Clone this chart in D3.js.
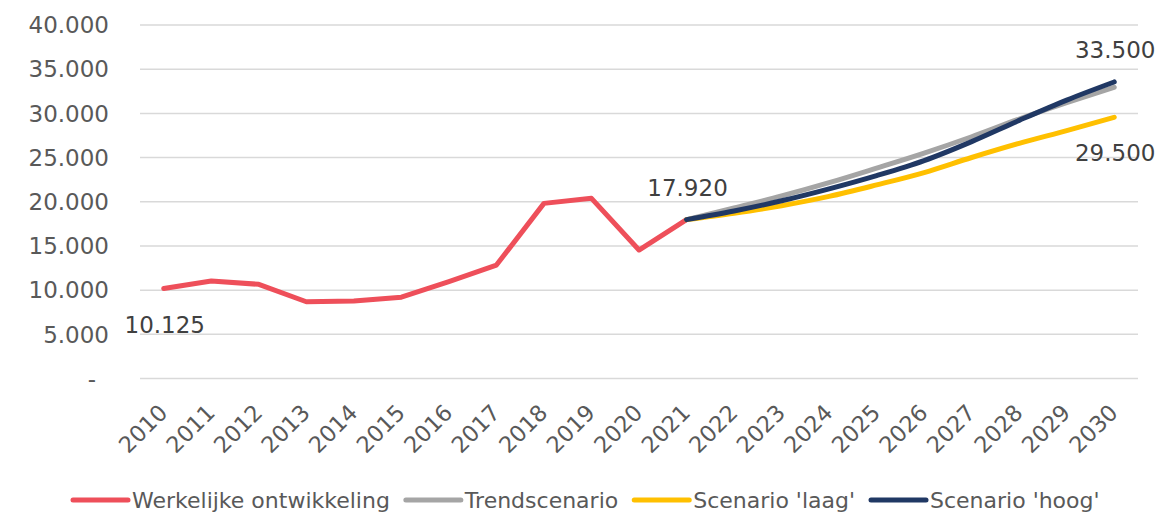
<!DOCTYPE html>
<html lang="nl">

<head>
    <meta charset="UTF-8">
    <script src="https://d3js.org/d3.v7.min.js"></script>
    <title>Ontwikkeling en scenario's</title>
    <style>
        body { margin: 0; background: #fff; }
        text { font-family: "DejaVu Sans", sans-serif; }
    </style>
</head>

<body>
    <div id="chart"></div>
    <script>

        // categories
        const years = ["2010", "2011", "2012", "2013", "2014", "2015", "2016", "2017", "2018", "2019",
            "2020", "2021", "2022", "2023", "2024", "2025", "2026", "2027", "2028", "2029", "2030"];
        const actualYears = years.slice(0, 12);   // 2010 - 2021
        const scenarioYears = years.slice(11);    // 2021 - 2030

        // series values
        const werkelijk = [10125, 10970, 10600, 8630, 8700, 9150, 10900, 12780, 19760, 20330, 14480, 17920];
        const trend = [17920, 19250, 20600, 22100, 23750, 25450, 27300, 29300, 31150, 32900];
        const laag = [17920, 18650, 19500, 20550, 21850, 23250, 24950, 26550, 28000, 29500];
        const hoog = [17920, 18900, 20050, 21400, 22900, 24600, 26750, 29150, 31450, 33500];

        const seriesNames = ["Werkelijke ontwikkeling", "Trendscenario", "Scenario 'laag'", "Scenario 'hoog'"];
        const seriesColors = ["#ee4f5a", "#a5a5a5", "#ffc000", "#203864"];

        // y ticks
        const yTicks = [0, 5000, 10000, 15000, 20000, 25000, 30000, 35000, 40000];

        const W = 1163, H = 512;
        const nl = d3.formatLocale({ decimal: ",", thousands: ".", grouping: [3], currency: ["€", ""] });
        const fmt = nl.format(",");

        const svg = d3.select("#chart")
            .append("svg")
            .attr("width", W)
            .attr("height", H);

        const x = d3.scalePoint()
            .domain(years)
            .range([140, 1138])
            .padding(0.5);

        const y = d3.scaleLinear()
            .domain([0, 40000])
            .range([378, 24.5]);

        // gridlines + y labels
        const yAxis = svg.append("g")
            .attr("transform", "translate(140,0)")
            .call(d3.axisLeft(y)
                .tickValues(yTicks)
                .tickSize(-998)
                .tickPadding(31)
                .tickFormat(d => d === 0 ? "-" : fmt(d)));
        yAxis.select(".domain").remove();
        yAxis.selectAll(".tick line").attr("stroke", "#d9d9d9").attr("stroke-width", 1.5);
        yAxis.selectAll(".tick text")
            .attr("fill", "#595959")
            .style("font-size", "23px")
            .attr("dy", "0.36em");
        yAxis.selectAll(".tick text").filter(d => d === 0).attr("dx", -13);

        // x labels
        const xAxis = svg.append("g");
        xAxis.selectAll("text")
            .data(years)
            .join("text")
            .attr("transform", d => `translate(${x(d) + 5},414) rotate(-45)`)
            .attr("text-anchor", "end")
            .attr("fill", "#595959")
            .style("font-size", "22.5px")
            .text(d => d);

        // lines
        const lineFor = (cats, curve) => d3.line()
            .x((d, i) => x(cats[i]))
            .y(d => y(d))
            .curve(curve);

        const lines = [
            { vals: werkelijk, cats: actualYears, color: seriesColors[0], curve: d3.curveLinear },
            { vals: trend, cats: scenarioYears, color: seriesColors[1], curve: d3.curveMonotoneX },
            { vals: laag, cats: scenarioYears, color: seriesColors[2], curve: d3.curveMonotoneX },
            { vals: hoog, cats: scenarioYears, color: seriesColors[3], curve: d3.curveMonotoneX }
        ];

        svg.selectAll(".line")
            .data(lines)
            .join("path")
            .attr("class", "line")
            .attr("fill", "none")
            .attr("stroke", d => d.color)
            .attr("stroke-width", 5)
            .attr("stroke-linecap", "round")
            .attr("stroke-linejoin", "round")
            .attr("d", d => lineFor(d.cats, d.curve)(d.vals));

        // data labels
        const labels = [
            { year: "2010", value: werkelijk[0], pos: "below" },
            { year: "2021", value: werkelijk[11], pos: "above" },
            { year: "2030", value: hoog[hoog.length - 1], pos: "above" },
            { year: "2030", value: laag[laag.length - 1], pos: "below" }
        ];
        svg.selectAll(".dlabel")
            .data(labels)
            .join("text")
            .attr("class", "dlabel")
            .attr("x", d => x(d.year) + 1)
            .attr("y", d => y(d.value) + (d.pos === "above" ? -24 : 44))
            .attr("text-anchor", "middle")
            .attr("fill", "#404040")
            .style("font-size", "23px")
            .text(d => fmt(d.value));

        // legend
        const legend = svg.append("g").attr("transform", "translate(73,500)");
        let lx = 0;
        seriesNames.forEach((name, i) => {
            const g = legend.append("g").attr("transform", `translate(${lx},0)`);
            g.append("line")
                .attr("x1", 0).attr("x2", 55)
                .attr("stroke", seriesColors[i])
                .attr("stroke-width", 5)
                .attr("stroke-linecap", "round");
            const t = g.append("text")
                .attr("x", 59)
                .attr("y", 8)
                .attr("fill", "#595959")
                .style("font-size", "22px")
                .text(name);
            lx += 59 + t.node().getComputedTextLength() + 16;
        });

    </script>
</body>

</html>
